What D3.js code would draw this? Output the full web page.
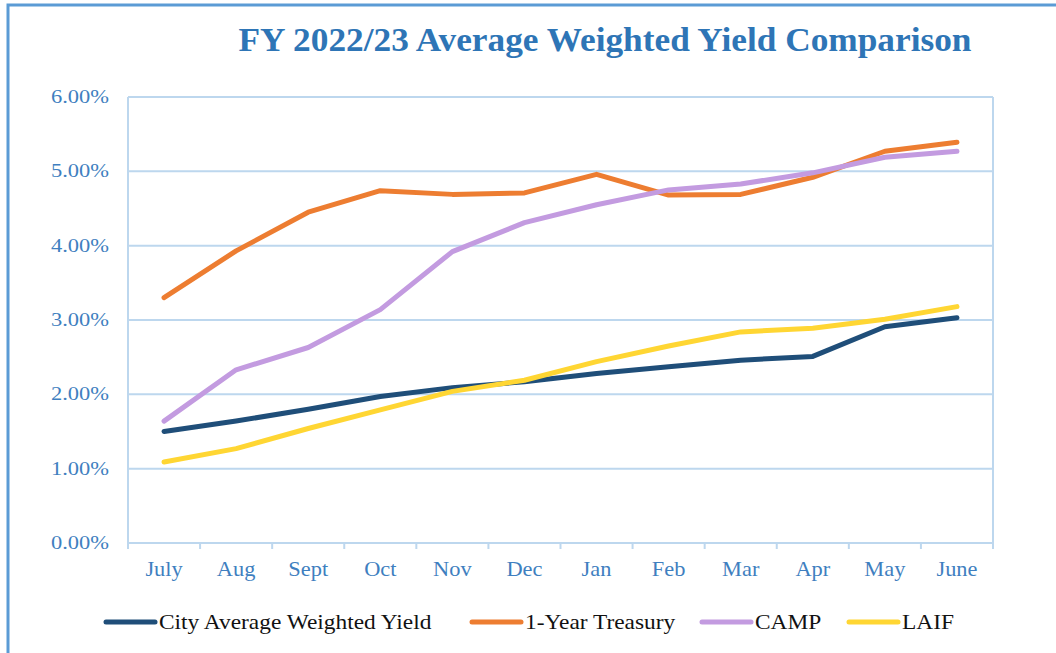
<!DOCTYPE html>
<html>
<head>
<meta charset="utf-8">
<script src="https://cdn.jsdelivr.net/npm/d3@7"></script>
<style>
  body { margin: 0; background: #fff; }
  svg { display: block; }
</style>
</head>
<body>
<svg id="chart" width="1056" height="653"></svg>
<script>
var months = ["July", "Aug", "Sept", "Oct", "Nov", "Dec", "Jan", "Feb", "Mar", "Apr", "May", "June"];
var yTicks = [0, 1, 2, 3, 4, 5, 6];
var seriesNames = ["City Average Weighted Yield", "1-Year Treasury", "CAMP", "LAIF"];
var cityYield = [1.50, 1.64, 1.80, 1.97, 2.09, 2.17, 2.28, 2.37, 2.46, 2.51, 2.91, 3.03];
var treasury = [3.30, 3.93, 4.45, 4.74, 4.69, 4.71, 4.96, 4.68, 4.69, 4.92, 5.27, 5.39];
var camp = [1.64, 2.33, 2.63, 3.14, 3.92, 4.31, 4.55, 4.75, 4.83, 4.98, 5.19, 5.27];
var laif = [1.09, 1.27, 1.54, 1.79, 2.04, 2.19, 2.44, 2.65, 2.84, 2.89, 3.01, 3.18];
var colors = ["#1f4e79", "#ed7d31", "#c39be0", "#ffd633"];

var svg = d3.select("#chart");
var padding = {top: 97, right: 63, bottom: 110, left: 128};
var chartArea = {
    "width": 1056 - padding.left - padding.right,
    "height": 653 - padding.top - padding.bottom
};
var gridColor = "#bdd7ee";
var labelColor = "#3f7fc0";
var serif = "Liberation Serif, Times New Roman, serif";

// the source text is a bit wider than plain Times, so stretch it horizontally
function stretchedText(sel, x, y, sx) {
    return sel.append("g")
        .attr("transform", "translate(" + x + "," + y + ") scale(" + sx + ",1)")
        .append("text")
        .attr("font-family", serif);
}

// outer frame
svg.append("rect")
    .attr("x", 8).attr("y", 5)
    .attr("width", 1100).attr("height", 700)
    .attr("fill", "none")
    .attr("stroke", "#5b9bd5")
    .attr("stroke-width", 3);

stretchedText(svg, 605, 51, 1.07)
    .attr("text-anchor", "middle")
    .attr("font-weight", "bold")
    .attr("font-size", 33)
    .attr("fill", "#2e75b6")
    .text("FY 2022/23 Average Weighted Yield Comparison");

var yScale = d3.scaleLinear().domain([0, 6]).range([chartArea.height, 0]);
var xScale = d3.scaleBand().domain(months).range([0, chartArea.width]);

var g = svg.append("g")
    .attr("transform", "translate(" + padding.left + "," + padding.top + ")");

// horizontal grid
g.append("g")
    .selectAll("line").data(yTicks).enter()
    .append("line")
    .attr("x1", 0).attr("x2", chartArea.width)
    .attr("y1", d => yScale(d)).attr("y2", d => yScale(d))
    .attr("stroke", gridColor).attr("stroke-width", 2);

// vertical edges
g.append("line")
    .attr("x1", 0).attr("x2", 0).attr("y1", 0).attr("y2", chartArea.height + 6)
    .attr("stroke", gridColor).attr("stroke-width", 2);
g.append("line")
    .attr("x1", chartArea.width).attr("x2", chartArea.width).attr("y1", 0).attr("y2", chartArea.height + 6)
    .attr("stroke", gridColor).attr("stroke-width", 2);

// x ticks at band boundaries
var bounds = months.slice(1).map(m => xScale(m));
g.append("g")
    .selectAll("line").data(bounds).enter()
    .append("line")
    .attr("x1", d => d).attr("x2", d => d)
    .attr("y1", chartArea.height).attr("y2", chartArea.height + 6)
    .attr("stroke", gridColor).attr("stroke-width", 2);

// y labels
yTicks.forEach(t => {
    stretchedText(g, -19, yScale(t) + 6, 1.25)
        .attr("text-anchor", "end")
        .attr("font-size", 18)
        .attr("fill", labelColor)
        .text(d3.format(".2f")(t) + "%");
});

// x labels
months.forEach(m => {
    stretchedText(g, xScale(m) + xScale.bandwidth() / 2, chartArea.height + 33, 1.12)
        .attr("text-anchor", "middle")
        .attr("font-size", 20)
        .attr("fill", labelColor)
        .text(m);
});

// lines
var allSeries = [cityYield, treasury, camp, laif];
var line = d3.line()
    .x((d, i) => xScale(months[i]) + xScale.bandwidth() / 2)
    .y(d => yScale(d));

g.append("g")
    .selectAll("path").data(allSeries).enter()
    .append("path")
    .attr("d", d => line(d))
    .attr("fill", "none")
    .attr("stroke", (d, i) => colors[i])
    .attr("stroke-width", 5)
    .attr("stroke-linecap", "round")
    .attr("stroke-linejoin", "round");

// legend
var legendX = [106, 472, 702, 849];
seriesNames.forEach((name, i) => {
    var item = svg.append("g")
        .attr("transform", "translate(" + legendX[i] + ",622)");
    item.append("line")
        .attr("x1", 0).attr("x2", 49)
        .attr("y1", 0).attr("y2", 0)
        .attr("stroke", colors[i])
        .attr("stroke-width", 5)
        .attr("stroke-linecap", "round");
    stretchedText(item, 53, 6.5, 1.17)
        .attr("font-size", 20)
        .attr("fill", "#111")
        .text(name);
});
</script>
</body>
</html>
